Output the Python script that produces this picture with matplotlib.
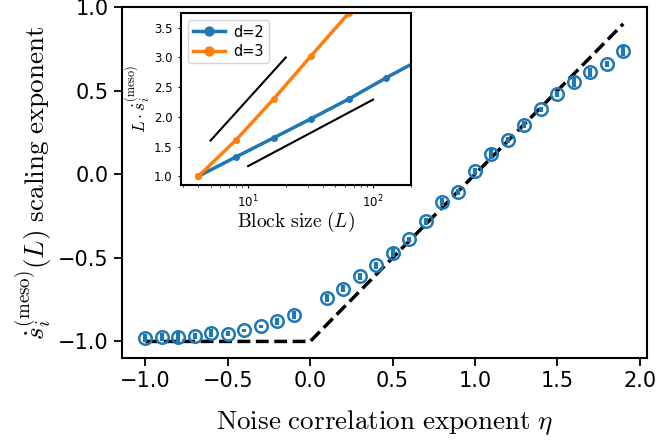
import numpy as np
import matplotlib
matplotlib.use("Agg")
import matplotlib.pyplot as plt

# main panel: measured exponent vs noise correlation exponent
eta = [-1.0, -0.9, -0.8, -0.7, -0.6, -0.5, -0.4, -0.3, -0.2, -0.1,
       0.1, 0.2, 0.3, 0.4, 0.5, 0.6, 0.7, 0.8, 0.9, 1.0,
       1.1, 1.2, 1.3, 1.4, 1.5, 1.6, 1.7, 1.8, 1.9]
s_exp = [-0.980, -0.974, -0.974, -0.966, -0.950, -0.954, -0.934, -0.910, -0.880, -0.840,
         -0.740, -0.685, -0.611, -0.545, -0.468, -0.388, -0.282, -0.166, -0.106, 0.017,
         0.121, 0.206, 0.296, 0.390, 0.481, 0.555, 0.609, 0.659, 0.739]
s_err = [0.025, 0.025, 0.035, 0.018, 0.024, 0.015, 0.011, 0.007, 0.020, 0.024,
         0.024, 0.020, 0.020, 0.020, 0.025, 0.015, 0.020, 0.025, 0.020, 0.020,
         0.030, 0.020, 0.020, 0.015, 0.020, 0.030, 0.025, 0.020, 0.030]

# theory: max(-1, eta - 1)
eta_theory = [-1.0, 0.0, 1.9]
s_theory = [-1.0, -1.0, 0.9]

# inset: rescaled curves vs block size
L_d2 = [4, 8, 16, 32, 64, 128, 256]
y_d2 = [1.0, 1.325, 1.646, 1.97, 2.30, 2.66, 3.0]
L_d3 = [4, 8, 16, 32, 64, 128]
y_d3 = [1.0, 1.61, 2.30, 3.03, 3.75, 4.5]
guide1_L = [5, 20]
guide1_y = [1.60, 3.0]
guide2_L = [10, 100]
guide2_y = [1.17, 2.29]

cm = dict(math_fontfamily='cm')

fig = plt.figure(figsize=(6.57, 4.46), dpi=100)
ax = fig.add_axes([0.185, 0.197, 0.800, 0.787])

ax.plot(eta_theory, s_theory, 'k--', lw=2.5, zorder=1)
ax.errorbar(eta, s_exp, yerr=s_err, fmt='o', color='C0', mfc='none', mec='C0',
            ms=9, mew=1.8, elinewidth=3, capsize=0, zorder=2)

ax.set_ylim(-1.1, 1.0)
ax.set_xticks([-1.0, -0.5, 0.0, 0.5, 1.0, 1.5, 2.0])
ax.set_yticks([-1.0, -0.5, 0.0, 0.5, 1.0])
ax.tick_params(labelsize=15, width=1.3, length=6)
for sp in ax.spines.values():
    sp.set_linewidth(1.5)
ax.set_xlabel(r'$\mathrm{Noise\ correlation\ exponent}\ \eta$', fontsize=19.5, labelpad=12, **cm)
ax.set_ylabel(r'$\dot{s}_i^{(\mathrm{meso})}(L)\ \mathrm{scaling\ exponent}$', fontsize=19.5, labelpad=2, **cm)

ins = fig.add_axes([0.2755, 0.585, 0.350, 0.386])
ins.plot(L_d2, y_d2, 'o-', color='C0', lw=2.5, ms=4, label='d=2')
ins.plot(L_d3, y_d3, 'o-', color='C1', lw=2.5, ms=4, label='d=3')
ins.plot(guide1_L, guide1_y, 'k-', lw=1.5)
ins.plot(guide2_L, guide2_y, 'k-', lw=1.5)
ins.set_xscale('log')
ins.set_xlim(2.9, 201)
ins.set_ylim(0.85, 3.75)
ins.set_yticks([1.0, 1.5, 2.0, 2.5, 3.0, 3.5])
ins.tick_params(labelsize=8.5, length=2.5, width=0.8)
ins.tick_params(which='minor', length=1.5, width=0.6)
for sp in ins.spines.values():
    sp.set_linewidth(1.5)
ins.set_xlabel(r'$\mathrm{Block\ size}\ (L)$', fontsize=14, labelpad=0, **cm)
ins.set_ylabel(r'$L\cdot\dot{s}_i^{(\mathrm{meso})}$', fontsize=12.5, labelpad=0.5, **cm)
ins.legend(loc='upper left', fontsize=10.5, markerscale=1.6, handlelength=2.2,
           borderpad=0.3, labelspacing=0.3, handletextpad=0.6)

fig.savefig('out.png', dpi=100)
